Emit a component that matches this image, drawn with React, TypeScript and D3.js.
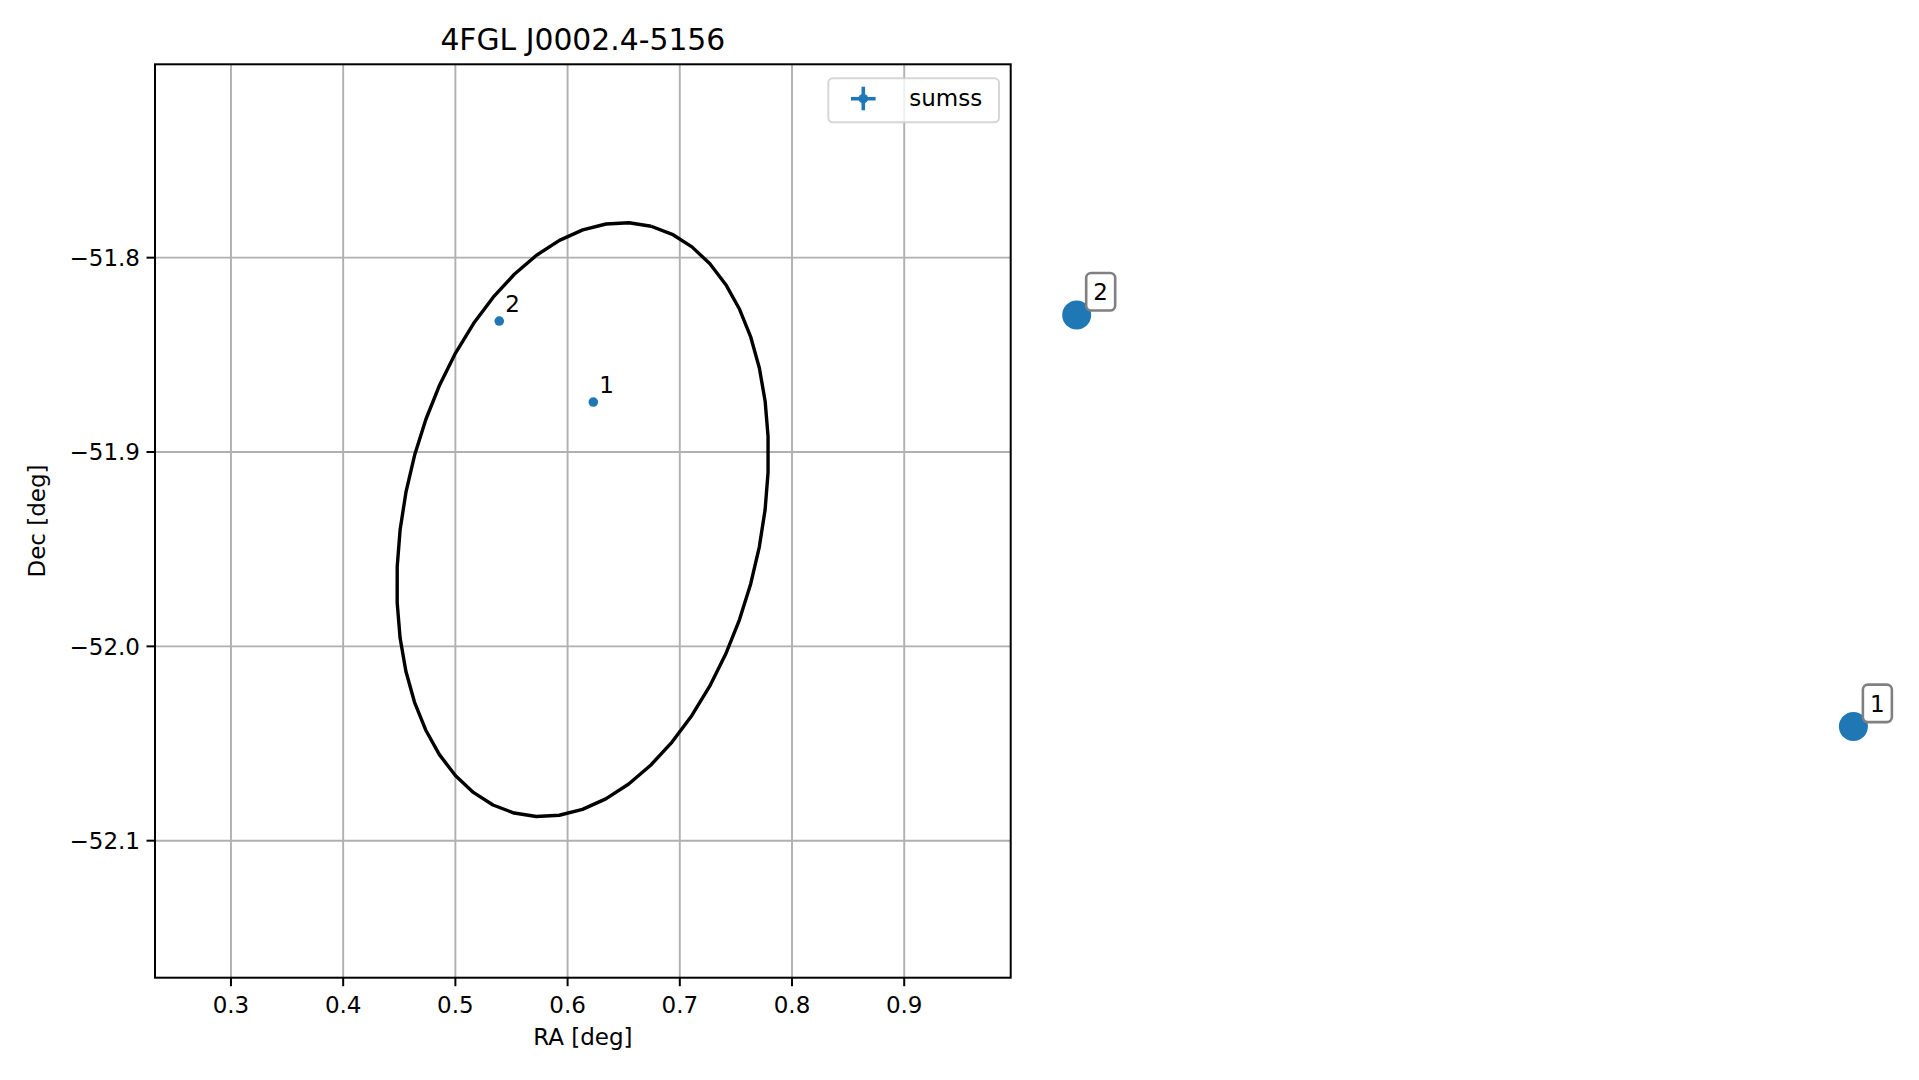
import React from 'react';
import * as d3 from 'd3';

// sumss counterparts inside the 4FGL error ellipse
const sumssIds = ['1', '2'];
const sumssRa = [0.6229, 0.5391];
const sumssDec = [-51.8743, -51.8326];

// annotated markers drawn off to the right of the axes
const markerIds = ['2', '1'];
const markerRa = [1.0537, 1.7459];
const markerDec = [-51.8295, -52.0413];

// 95% ellipse of the gamma-ray source
const ellipseCenter = [0.6134, -51.9348];
const ellipseSemiMajor = 0.1556;
const ellipseSemiMinor = 0.0978;
const ellipsePosAngle = 14; // deg, north through +RA
const ellipseSegments = 50;

const xTicks = [0.3, 0.4, 0.5, 0.6, 0.7, 0.8, 0.9];
const yTicks = [-51.8, -51.9, -52.0, -52.1];
const xDomain = [0.2323, 0.9949];
const yDomain = [-52.1705, -51.7005];

const title = '4FGL J0002.4-5156';
const legendLabel = 'sumss';

const W = 1919;
const H = 1080;
const margin = { left: 155, right: 1010.7, top: 64.3, bottom: 977.7 };
const BLUE = '#1f77b4';
const FONT = '"DejaVu Sans", sans-serif';

export default function App() {
  const x = d3.scaleLinear().domain(xDomain).range([margin.left, margin.right]);
  const y = d3.scaleLinear().domain(yDomain).range([margin.bottom, margin.top]);

  // ellipse outline as a polyline, like the original plot
  const cosDec = Math.cos((ellipseCenter[1] * Math.PI) / 180);
  const pa = (ellipsePosAngle * Math.PI) / 180;
  const ellipsePts: [number, number][] = d3.range(ellipseSegments + 1).map((i) => {
    const t = (2 * Math.PI * i) / ellipseSegments;
    const dx = ellipseSemiMajor * Math.cos(t) * Math.sin(pa) + ellipseSemiMinor * Math.sin(t) * Math.cos(pa);
    const dy = ellipseSemiMajor * Math.cos(t) * Math.cos(pa) - ellipseSemiMinor * Math.sin(t) * Math.sin(pa);
    return [ellipseCenter[0] + dx / Math.abs(cosDec), ellipseCenter[1] + dy];
  });
  const line = d3.line<[number, number]>()
    .x((d) => x(d[0]))
    .y((d) => y(d[1]));

  const fmtY = (v: number) => v.toFixed(1).replace('-', '\u2212');
  const plotW = margin.right - margin.left;
  const plotH = margin.bottom - margin.top;
  const midX = (margin.left + margin.right) / 2;
  const midY = (margin.top + margin.bottom) / 2;

  return (
    <div style={{ position: 'absolute', left: 0, top: 0 }}>
      <svg width={W} height={H} style={{ display: 'block', background: '#fff', fontFamily: FONT }}>
        <defs>
          <clipPath id="plot-clip">
            <rect x={margin.left} y={margin.top} width={plotW} height={plotH} />
          </clipPath>
        </defs>

        {/* grid */}
        <g stroke="#b0b0b0" strokeWidth={1.9}>
          {xTicks.map((t) => (
            <line key={'gx' + t} x1={x(t)} x2={x(t)} y1={margin.top} y2={margin.bottom} />
          ))}
          {yTicks.map((t) => (
            <line key={'gy' + t} x1={margin.left} x2={margin.right} y1={y(t)} y2={y(t)} />
          ))}
        </g>

        {/* error ellipse */}
        <path d={line(ellipsePts) || ''} fill="none" stroke="#000" strokeWidth={3.4}
          strokeLinejoin="round" clipPath="url(#plot-clip)" />

        {/* sumss points */}
        {sumssIds.map((id, i) => (
          <g key={'s' + id}>
            <circle cx={x(sumssRa[i])} cy={y(sumssDec[i])} r={4.8} fill={BLUE} />
            <text x={x(sumssRa[i]) + 6} y={y(sumssDec[i]) - 9.3} fontSize={23} fill="#000">{id}</text>
          </g>
        ))}

        {/* spines */}
        <rect x={margin.left} y={margin.top} width={plotW} height={plotH}
          fill="none" stroke="#000" strokeWidth={2} />

        {/* x ticks */}
        <g>
          {xTicks.map((t) => (
            <g key={'tx' + t}>
              <line x1={x(t)} x2={x(t)} y1={margin.bottom} y2={margin.bottom + 8.5} stroke="#000" strokeWidth={2} />
              <text x={x(t)} y={margin.bottom + 35.6} fontSize={23} textAnchor="middle" fill="#000">
                {t.toFixed(1)}
              </text>
            </g>
          ))}
        </g>

        {/* y ticks */}
        <g>
          {yTicks.map((t) => (
            <g key={'ty' + t}>
              <line x1={margin.left - 8.5} x2={margin.left} y1={y(t)} y2={y(t)} stroke="#000" strokeWidth={2} />
              <text x={margin.left - 15} y={y(t) + 8.3} fontSize={23} textAnchor="end" fill="#000">
                {fmtY(t)}
              </text>
            </g>
          ))}
        </g>

        {/* axis labels and title */}
        <text x={midX} y={1045} fontSize={23} textAnchor="middle" fill="#000">RA [deg]</text>
        <text transform={`translate(45,${midY}) rotate(-90)`} fontSize={23} textAnchor="middle" fill="#000">
          Dec [deg]
        </text>
        <text x={midX} y={50} fontSize={29.8} textAnchor="middle" fill="#000">{title}</text>

        {/* legend */}
        <g>
          <rect x={828.3} y={78.3} width={170.7} height={44} rx={4.5}
            fill="#fff" fillOpacity={0.8} stroke="#cccccc" strokeOpacity={0.8} strokeWidth={2} />
          <line x1={851} x2={875.6} y1={98.7} y2={98.7} stroke={BLUE} strokeWidth={3.6} />
          <line x1={863.3} x2={863.3} y1={86.7} y2={110.3} stroke={BLUE} strokeWidth={3.6} />
          <circle cx={863.3} cy={98.7} r={4.8} fill={BLUE} />
          <text x={909.3} y={106.3} fontSize={23} fill="#000">{legendLabel}</text>
        </g>

        {/* annotated markers */}
        {markerIds.map((id, i) => {
          const cx = x(markerRa[i]);
          const cy = y(markerDec[i]);
          return (
            <g key={'m' + id}>
              <circle cx={cx} cy={cy} r={14.5} fill={BLUE} />
              <rect x={cx + 9.5} y={cy - 42} width={29} height={37.5} rx={5}
                fill="#fff" stroke="#808080" strokeWidth={2.6} />
              <text x={cx + 24} y={cy - 23} fontSize={23} textAnchor="middle"
                dominantBaseline="central" fill="#000">{id}</text>
            </g>
          );
        })}
      </svg>
    </div>
  );
}
